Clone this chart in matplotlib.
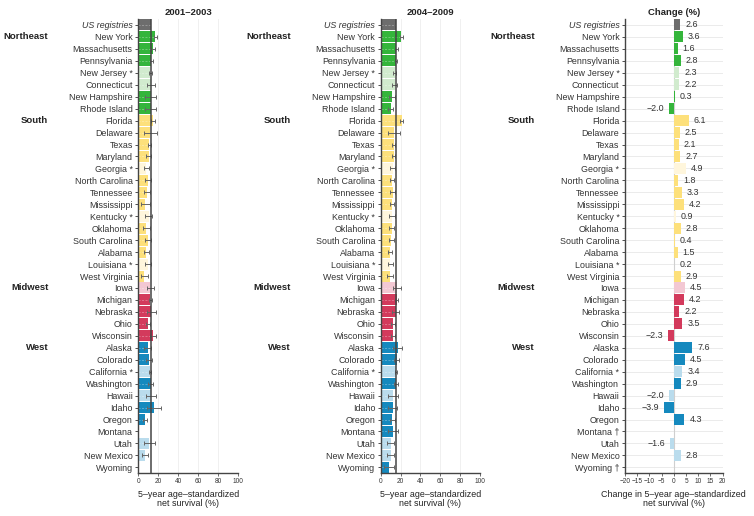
import numpy as np
import matplotlib
matplotlib.use('Agg')
import matplotlib.pyplot as plt
import matplotlib.transforms as mtransforms

plt.rcParams['font.family'] = ['Liberation Sans', 'DejaVu Sans']

nan = np.nan

#rows, top to bottom
states = ["US registries", "New York", "Massachusetts", "Pennsylvania", "New Jersey *",
          "Connecticut", "New Hampshire", "Rhode Island", "Florida", "Delaware", "Texas",
          "Maryland", "Georgia *", "North Carolina", "Tennessee", "Mississippi", "Kentucky *",
          "Oklahoma", "South Carolina", "Alabama", "Louisiana *", "West Virginia", "Iowa",
          "Michigan", "Nebraska", "Ohio", "Wisconsin", "Alaska", "Colorado", "California *",
          "Washington", "Hawaii", "Idaho", "Oregon", "Montana", "Utah", "New Mexico", "Wyoming"]
regions = ["US"] + ["Northeast"] * 7 + ["South"] * 14 + ["Midwest"] * 5 + ["West"] * 11
light_rows = ["New Jersey *", "Connecticut", "Georgia *", "Kentucky *", "Louisiana *", "Iowa",
              "California *", "Hawaii", "Utah", "New Mexico"]
no_change = ["Montana", "Wyoming"]  #marked with a dagger in the change panel

#2001-2003 survival (%) and CI half width
surv_0103 = [12.4, 17.0, 14.5, 13.0, 12.0, 12.7, 12.4, 12.3, 14.5, 11.7, 11.0,
             10.4, 8.0, 9.7, 8.7, 7.0, 10.4, 8.0, 9.4, 8.0, 9.4, 6.0, 12.0,
             12.0, 12.7, 9.4, 14.7, 9.4, 11.0, 11.7, 12.4, 12.7, 15.7, 6.7, nan, 11.0, 7.0, nan]
err_0103 = [0, 1.5, 1.7, 1.5, 1.7, 3.7, 5.5, 5.7, 1.8, 6.5, 1.8,
            2.3, 2.3, 2.7, 3.3, 4.5, 3.3, 3.3, 3.0, 2.7, 2.8, 3.3, 3.8,
            1.8, 4.5, 2.0, 3.2, 3.3, 3.0, 1.3, 2.7, 5.2, 7.2, 2.2, nan, 5.8, 3.0, nan]

#2004-2009 survival (%) and CI half width
surv_0409 = [15.0, 20.8, 15.8, 15.6, 14.3, 14.0, 11.8, 10.0, 21.0, 13.5, 12.9,
             12.9, 12.3, 11.8, 12.0, 11.2, 11.2, 10.9, 10.5, 9.8, 9.5, 9.0, 16.0,
             16.4, 15.0, 12.8, 12.2, 17.2, 16.0, 15.5, 15.6, 12.5, 11.9, 11.5, 12.0, 10.0, 10.0, 8.6]
err_0409 = [0, 1.3, 1.7, 1.3, 1.5, 2.2, 3.0, 2.5, 1.3, 6.3, 1.5,
            2.0, 2.5, 2.0, 2.2, 2.0, 3.2, 2.3, 2.5, 2.0, 2.5, 3.0, 4.0,
            1.5, 3.5, 2.0, 2.3, 4.7, 2.2, 1.0, 2.2, 5.0, 4.5, 2.5, 5.0, 3.5, 3.5, 5.0]

#change (%)
change = [2.6, 3.6, 1.6, 2.8, 2.3, 2.2, 0.3, -2.0, 6.1, 2.5, 2.1,
          2.7, 4.9, 1.8, 3.3, 4.2, 0.9, 2.8, 0.4, 1.5, 0.2, 2.9, 4.5,
          4.2, 2.2, 3.5, -2.3, 7.6, 4.5, 3.4, 2.9, -2.0, -3.9, 4.3, nan, -1.6, 2.8, nan]

palette = {"US": ("#6d6d6d", "#6d6d6d"),
           "Northeast": ("#34b53b", "#d1ebce"),
           "South": ("#fde07b", "#fff6dc"),
           "Midwest": ("#d33a5c", "#f3c8d3"),
           "West": ("#1589be", "#badced")}
colors = [palette[r][1] if s in light_rows else palette[r][0] for s, r in zip(states, regions)]

W, H = 754, 516
fig = plt.figure(figsize=(W / 100, H / 100), dpi=100)
ybot = 1 - 473.3 / H
ytop = 1 - 19 / H


def make_axes(left, right):
    return fig.add_axes([left / W, ybot, (right - left) / W, ytop - ybot])


ax1 = make_axes(138.3, 238.3)
ax2 = make_axes(380.7, 480.0)
ax3 = make_axes(625.0, 722.7)
y = np.arange(len(states))
dark = '#333333'


def setup(ax, labels, left_px):
    ax.set_ylim(len(states) - 0.5, -0.5)
    ax.set_yticks(y)
    ax.set_yticklabels(labels, fontsize=6.4, color=dark)
    ax.get_yticklabels()[0].set_style('italic')
    ax.tick_params(axis='y', length=2.5, width=0.6, pad=1.5, color=dark)
    ax.tick_params(axis='x', length=2, width=0.5, pad=1.5, labelsize=4.7,
                   color=dark, labelcolor=dark)
    ax.spines['top'].set_visible(False)
    ax.spines['right'].set_visible(False)
    for sp in ['left', 'bottom']:
        ax.spines[sp].set_color('#444444')
        ax.spines[sp].set_linewidth(1.0)
    #region names left of the state labels
    tr = mtransforms.blended_transform_factory(fig.transFigure, ax.transData)
    for reg in ["Northeast", "South", "Midwest", "West"]:
        i = regions.index(reg)
        ax.text((left_px - 90) / W, i, reg, transform=tr, ha='right', va='center',
                fontsize=6.8, fontweight='bold', color='#222222')


def survival_panel(ax, vals, errs, title, left_px):
    vals = np.array(vals)
    errs = np.array(errs)
    ok = ~np.isnan(vals)
    ax.set_xlim(0, 100)
    ax.set_xticks(range(0, 101, 20))
    ax.grid(axis='x', color='#eeeeee', lw=0.6)
    ax.set_axisbelow(True)
    cols = [c for c, k in zip(colors, ok) if k]
    ax.barh(y[ok], vals[ok], height=0.92, color=cols, zorder=2)
    ax.hlines(y[ok], 0, vals[ok], colors='white', lw=0.5, linestyles=(0, (3, 2)),
              alpha=0.4, zorder=2.5)
    ok_e = ok & (errs > 0)
    ax.errorbar(vals[ok_e], y[ok_e], xerr=errs[ok_e], fmt='none', ecolor='#666666',
                elinewidth=0.7, capsize=1.3, capthick=0.7, zorder=3)
    ax.axvline(vals[0], color='#444444', lw=1.1, zorder=4)
    setup(ax, states, left_px)
    ax.set_title(title, fontsize=6.8, fontweight='bold', pad=3, color='#222222')
    ax.set_xlabel('5\u2013year age\u2013standardized\nnet survival (%)', fontsize=6.4,
                  labelpad=3.5, linespacing=1.05, color='#222222')


survival_panel(ax1, surv_0103, err_0103, '2001\u20132003', 138.3)
survival_panel(ax2, surv_0409, err_0409, '2004\u20132009', 380.7)

#change panel
chg = np.array(change)
ok = ~np.isnan(chg)
ax3.set_xlim(-20, 20)
ax3.set_xticks(range(-20, 21, 5))
ax3.hlines(y, -20, 20, colors='#e8e8e8', lw=0.6, zorder=0)
ax3.axvline(0, color='#cfcfcf', lw=0.8, zorder=0.5)
ax3.barh(y[ok], chg[ok], height=0.92, color=[c for c, k in zip(colors, ok) if k], zorder=2)
for yi, v in zip(y[ok], chg[ok]):
    txt = f"{v:.1f}".replace('-', '\u2212')
    off = 3.6 if v >= 0 else -3.6
    ax3.annotate(txt, (v, yi), xytext=(off, 0), textcoords='offset points',
                 ha='left' if v >= 0 else 'right', va='center', fontsize=6.4, color=dark)
labels3 = [s + " \u2020" if s in no_change else s for s in states]
setup(ax3, labels3, 625.0)
ax3.set_title('Change (%)', fontsize=6.8, fontweight='bold', pad=3, color='#222222')
ax3.set_xlabel('Change in 5\u2013year age\u2013standardized\nnet survival (%)', fontsize=6.4,
               labelpad=3.5, linespacing=1.05, color='#222222')

fig.savefig('out.png', dpi=100, facecolor='white')
